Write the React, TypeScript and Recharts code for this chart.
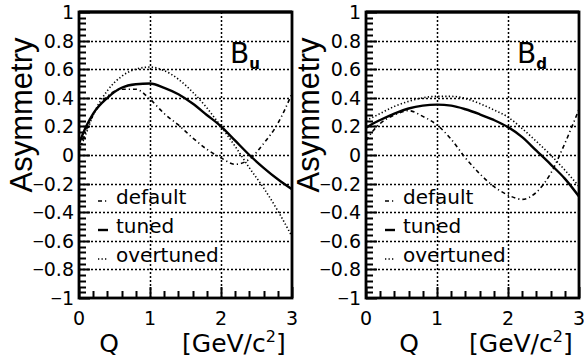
import {
  Label,
  Legend,
  Line,
  LineChart,
  ReferenceLine,
  XAxis,
  YAxis,
} from 'recharts';

// Two panels (B_u, B_d): asymmetry vs Q for three tunes.
// Values.

const qValues = [0, 0.1, 0.2, 0.4, 0.6, 0.8, 1.0, 1.2, 1.4, 1.6, 1.8, 2.0, 2.2, 2.4, 2.6, 2.8, 3.0];

const buDefault = [0.03, 0.17, 0.28, 0.41, 0.46, 0.46, 0.39, 0.29, 0.21, 0.12, 0.04, -0.02, -0.065, -0.03, 0.08, 0.22, 0.43];
const buTuned = [0.08, 0.2, 0.29, 0.4, 0.47, 0.495, 0.5, 0.47, 0.425, 0.36, 0.28, 0.2, 0.1, 0.0, -0.09, -0.17, -0.24];
const buOvertuned = [0.03, 0.15, 0.28, 0.45, 0.55, 0.6, 0.615, 0.59, 0.53, 0.44, 0.33, 0.2, 0.06, -0.09, -0.23, -0.39, -0.57];

const bdDefault = [0.1, 0.17, 0.22, 0.28, 0.31, 0.27, 0.21, 0.11, -0.02, -0.13, -0.22, -0.28, -0.31, -0.26, -0.13, 0.08, 0.32];
const bdTuned = [0.19, 0.22, 0.245, 0.29, 0.325, 0.345, 0.352, 0.345, 0.32, 0.285, 0.245, 0.195, 0.125, 0.03, -0.065, -0.165, -0.29];
const bdOvertuned = [0.24, 0.265, 0.29, 0.34, 0.375, 0.4, 0.41, 0.41, 0.395, 0.36, 0.315, 0.265, 0.185, 0.095, 0.0, -0.105, -0.22];

const xMajor = [0, 1, 2, 3];
const yMajor = [-1, -0.8, -0.6, -0.4, -0.2, 0, 0.2, 0.4, 0.6, 0.8, 1];

const series = [
  { key: 'def', name: 'default', width: 1.6, dash: '4 3 1.2 3' },
  { key: 'tuned', name: 'tuned', width: 2.4, dash: undefined },
  { key: 'over', name: 'overtuned', width: 1.6, dash: '1.3 2.2' },
];

const FONT = 'DejaVu Sans';

// chart box and plot area (must match LineChart size/margins + axis sizes below)
const W = 300;
const H = 364;
const PLOT = { left: 79, top: 12, width: 213, height: 286 };

// minor ticks: 5 per major interval
function subdivide(major: number[], n: number) {
  const out: number[] = [];
  for (let i = 0; i < major.length - 1; i++) {
    for (let k = 0; k < n; k++) {
      out.push(+(major[i] + ((major[i + 1] - major[i]) * k) / n).toFixed(4));
    }
  }
  out.push(major[major.length - 1]);
  return out;
}
const xTicks = subdivide(xMajor, 5);
const yTicks = subdivide(yMajor, 5);

const isMajor = (v: number, major: number[]) => major.some((m) => Math.abs(m - v) < 1e-6);

function YTick(props: any) {
  const { x, y, payload } = props;
  const v = payload.value;
  if (!isMajor(v, yMajor)) return <g />;
  const abs = Math.abs(v);
  const txt = abs < 1e-9 ? '0' : Number.isInteger(abs) ? String(abs) : abs.toFixed(1);
  return (
    <text x={x - 5} y={y + 7} textAnchor="end" fontFamily={FONT} fontSize={19} fill="#000">
      {v < -1e-9 && <tspan fontFamily="Liberation Sans">−</tspan>}
      {txt}
    </text>
  );
}

function XTick(props: any) {
  const { x, y, payload } = props;
  if (!isMajor(payload.value, xMajor)) return <g />;
  return (
    <text x={x} y={y + 27} textAnchor="middle" fontFamily={FONT} fontSize={19} fill="#000">
      {payload.value}
    </text>
  );
}

// frame, dotted grid and inward ticks, laid over the chart
function Frame() {
  const sx = (q: number) => Math.round(PLOT.left + (q / 3) * PLOT.width) + 0.5;
  const sy = (v: number) => Math.round(PLOT.top + ((1 - v) / 2) * PLOT.height) + 0.5;
  const bottom = PLOT.top + PLOT.height;
  return (
    <svg width={W} height={H} style={{ position: 'absolute', left: 0, top: 0, pointerEvents: 'none' }}>
      <g stroke="#000" fill="none">
        {yMajor.slice(1, -1).map((v) => (
          <line key={`gy${v}`} x1={PLOT.left} x2={PLOT.left + PLOT.width} y1={sy(v)} y2={sy(v)} strokeWidth={1.5} strokeDasharray="2 2" />
        ))}
        {xMajor.slice(1, -1).map((v) => (
          <line key={`gx${v}`} x1={sx(v)} x2={sx(v)} y1={PLOT.top} y2={bottom} strokeWidth={1.5} strokeDasharray="2 2" />
        ))}
        {yTicks.map((v) => (
          <line key={`ty${v}`} x1={PLOT.left} x2={PLOT.left + (isMajor(v, yMajor) ? 11 : 7)} y1={sy(v)} y2={sy(v)} strokeWidth={2} />
        ))}
        {xTicks.map((v) => (
          <line key={`tx${v}`} x1={sx(v)} x2={sx(v)} y1={bottom} y2={bottom - (isMajor(v, xMajor) ? 11 : 7)} strokeWidth={2} />
        ))}
        <rect x={PLOT.left} y={PLOT.top} width={PLOT.width} height={PLOT.height} strokeWidth={2.8} />
      </g>
    </svg>
  );
}

function LegendBox() {
  return (
    <svg width={140} height={90} style={{ display: 'block' }}>
      {series.map((s, i) => {
        const base = 18 + 29 * i;
        return (
          <g key={s.key}>
            <line x1={2} x2={12} y1={base - 3} y2={base - 3} stroke="#000" strokeWidth={s.width} strokeDasharray={s.dash} />
            <text x={20} y={base} fontFamily={FONT} fontSize={20} fill="#000">
              {s.name}
            </text>
          </g>
        );
      })}
    </svg>
  );
}

function Panel({ left, sub, qShift, def, tuned, over }: {
  left: number; sub: string; qShift: number; def: number[]; tuned: number[]; over: number[];
}) {
  const rows = qValues.map((q, i) => ({ q, def: def[i], tuned: tuned[i], over: over[i] }));
  return (
    <div style={{ position: 'absolute', left, top: 0, width: W, height: H }}>
      <LineChart width={W} height={H} data={rows} margin={{ top: 12, right: 8, bottom: 0, left: 0 }}>
        <XAxis
          dataKey="q"
          type="number"
          domain={[0, 3]}
          ticks={xTicks}
          interval={0}
          height={66}
          tickSize={0}
          tickMargin={0}
          tickLine={false}
          axisLine={false}
          tick={XTick}
        >
          <Label
            content={(p: any) => {
              const vb = p.viewBox;
              return (
                <g fontFamily={FONT} fontSize={25} fill="#000">
                  <text x={vb.x + qShift} y={vb.y + 54} textAnchor="middle">Q</text>
                  <text x={vb.x + 103} y={vb.y + 54}>
                    [GeV/c<tspan dy={-10} fontSize={16}>2</tspan>
                    <tspan dy={10}>]</tspan>
                  </text>
                </g>
              );
            }}
          />
        </XAxis>
        <YAxis
          type="number"
          domain={[-1, 1]}
          ticks={yTicks}
          interval={0}
          width={79}
          tickSize={0}
          tickMargin={0}
          tickLine={false}
          axisLine={false}
          tick={YTick}
        >
          <Label
            content={(p: any) => {
              const vb = p.viewBox;
              const cx = vb.x + 32;
              const cy = vb.y + 103;
              return (
                <text
                  x={cx}
                  y={cy}
                  transform={`rotate(-90, ${cx}, ${cy})`}
                  textAnchor="middle"
                  fontFamily="Liberation Sans"
                  fontSize={31}
                  fill="#000"
                >
                  Asymmetry
                </text>
              );
            }}
          />
        </YAxis>

        {series.map((s) => (
          <Line
            key={s.key}
            dataKey={s.key}
            name={s.name}
            type="monotone"
            stroke="#000"
            strokeWidth={s.width}
            strokeDasharray={s.dash}
            dot={false}
            activeDot={false}
            isAnimationActive={false}
          />
        ))}

        <ReferenceLine y={1} stroke="#000" strokeWidth={2.8}>
          <Label
            content={(p: any) => {
              const vb = p.viewBox;
              return (
                <text x={vb.x + 151} y={vb.y + 51} fontFamily={FONT} fontSize={28} fill="#000">
                  B
                  <tspan dy={6} fontSize={15} fontWeight="bold">{sub}</tspan>
                </text>
              );
            }}
          />
        </ReferenceLine>

        <Legend
          layout="vertical"
          align="center"
          verticalAlign="middle"
          content={() => <LegendBox />}
          wrapperStyle={{ left: 96, top: 186, width: 140, height: 90 }}
        />
      </LineChart>
      <Frame />
    </div>
  );
}

export default function App() {
  return (
    <div style={{ position: 'absolute', left: 0, top: 0, width: 584, height: 364, background: '#fff', overflow: 'hidden' }}>
      <Panel left={0} sub="u" qShift={30} def={buDefault} tuned={buTuned} over={buOvertuned} />
      <Panel left={287} sub="d" qShift={43} def={bdDefault} tuned={bdTuned} over={bdOvertuned} />
    </div>
  );
}
